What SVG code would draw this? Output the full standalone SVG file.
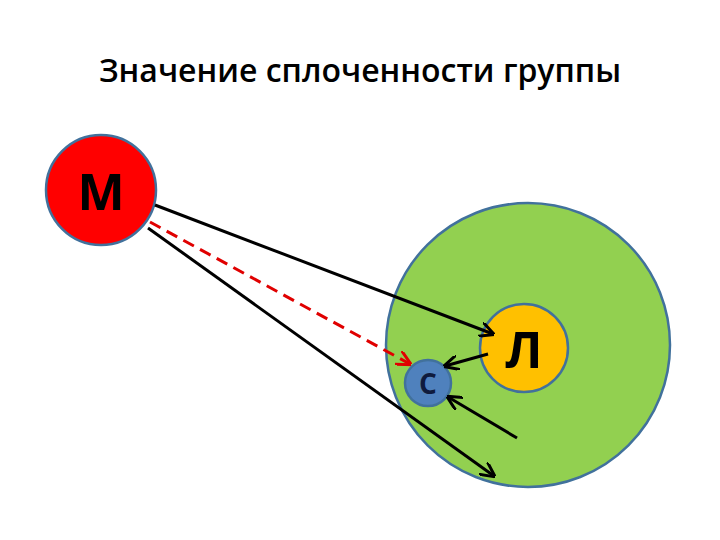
<svg xmlns="http://www.w3.org/2000/svg" width="720" height="540" viewBox="0 0 720 540">
<style>
.c{stroke:#41719c;stroke-width:2.5}
.t{font-family:"Open Sans","Liberation Sans",sans-serif;font-weight:bold;text-anchor:middle}
.l{stroke:#000;stroke-width:3;fill:none}
</style>
<defs>
<marker id="a" viewBox="0 0 10 10" refX="9" refY="5" markerWidth="5" markerHeight="5" orient="auto" markerUnits="strokeWidth"><path d="M0,0 L10,5 L0,10" fill="none" stroke="#000" stroke-width="2"/></marker>
<marker id="r" viewBox="0 0 10 10" refX="9" refY="5" markerWidth="5" markerHeight="5" orient="auto" markerUnits="strokeWidth"><path d="M0,0 L10,5 L0,10" fill="none" stroke="#e00000" stroke-width="2"/></marker>
</defs>
<rect width="720" height="540" fill="#fff"/>
<text class="t" x="360" y="82" font-size="32" font-weight="normal" style="font-weight:600">Значение сплоченности группы</text>
<g id="group"><circle class="c" cx="528" cy="345" r="142" fill="#92d050"/></g>
<g id="M"><circle class="c" cx="101" cy="190" r="55" fill="#ff0000"/><text class="t" x="101" y="210" font-size="50" font-weight="normal">М</text></g>
<g id="L"><circle class="c" cx="524" cy="348" r="44" fill="#ffc000"/><text class="t" x="524" y="368" font-size="50">Л</text></g>
<g id="C"><circle class="c" cx="428" cy="383" r="23" fill="#4f81bd"/><text class="t" x="428" y="394" font-size="28" fill="#0f1b3d">С</text></g>
<g id="connectors">
<line class="l" x1="155" y1="205" x2="493" y2="334" marker-end="url(#a)"/>
<line x1="150" y1="222" x2="410" y2="364" stroke="#e00000" stroke-width="3" stroke-dasharray="12,7" marker-end="url(#r)"/>
<line class="l" x1="148" y1="228" x2="494" y2="476" marker-end="url(#a)"/>
<line class="l" x1="488" y1="354" x2="445" y2="366" marker-end="url(#a)"/>
<line class="l" x1="517" y1="438" x2="448" y2="397" marker-end="url(#a)"/>
</g>
</svg>
